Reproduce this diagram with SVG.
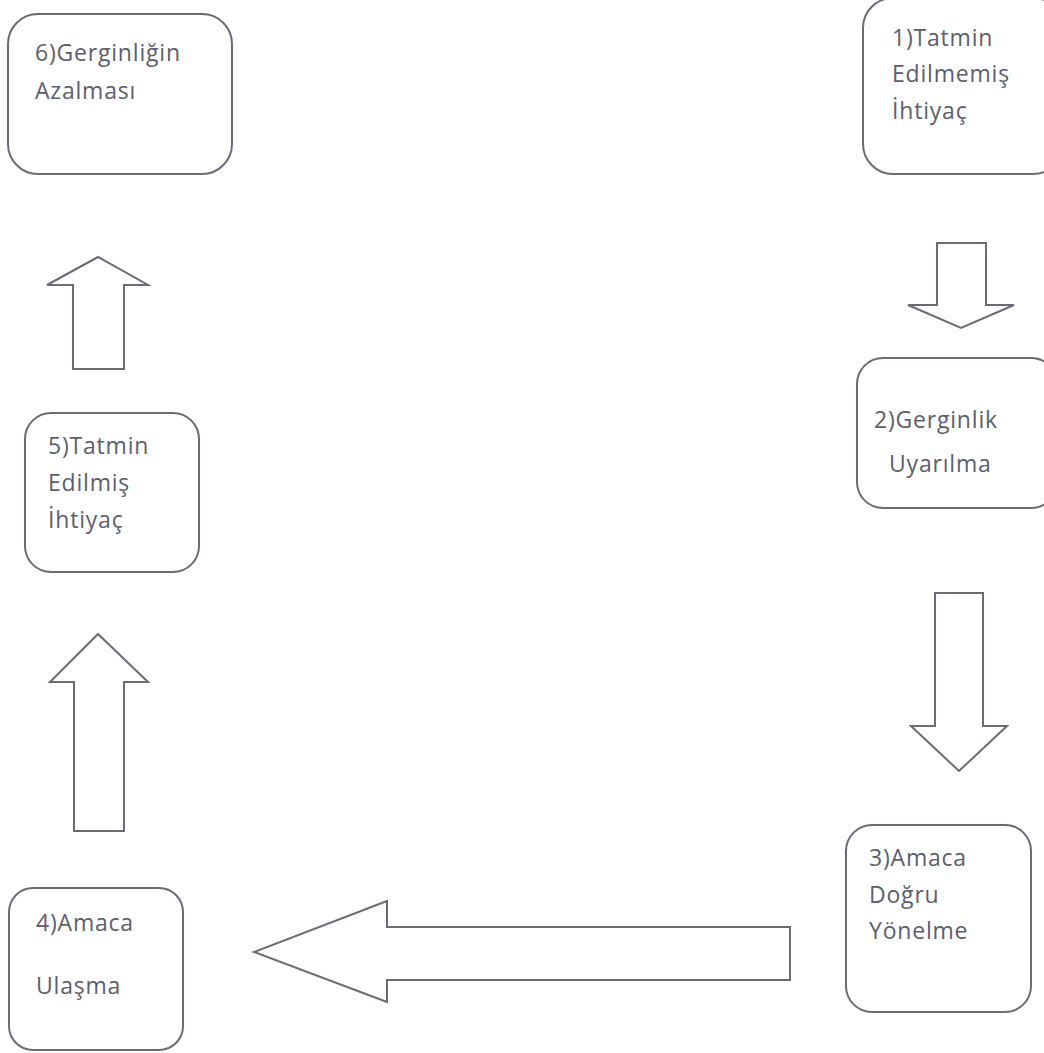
<svg xmlns="http://www.w3.org/2000/svg" width="1044" height="1053" viewBox="0 0 1044 1053">
<style>
.box{fill:#fff;stroke:#6b6b78;stroke-width:2}
.arr{fill:#fff;stroke:#6b6b78;stroke-width:2;stroke-linejoin:miter}
.t{font-family:"Open Sans","Noto Sans","DejaVu Sans",sans-serif;font-size:23px;letter-spacing:0.8px;fill:#5c5e6e}
</style>
<rect width="1044" height="1053" fill="#fff"/>
<g id="connectors">
<polygon class="arr" points="937,243 986,243 986,305 1014,305 961,328 908,305 937,305"/>
<polygon class="arr" points="935,593 983,593 983,726 1007,726 959,771 911,726 935,726"/>
<polygon class="arr" points="790,927 790,980 387,980 387,1002 254,952 387,901 387,927"/>
<polygon class="arr" points="74,831 124,831 124,682 148,682 98,634 50,682 74,682"/>
<polygon class="arr" points="73,369 124,369 124,285 148,285 98,257 47,285 73,285"/>
</g>
<g id="node1">
<rect class="box" x="863" y="-2" width="200" height="176" rx="30"/>
<text class="t" x="892" y="46">1)Tatmin</text>
<text class="t" x="892" y="82">Edilmemiş</text>
<text class="t" x="892" y="119">İhtiyaç</text>
</g>
<g id="node2">
<rect class="box" x="857" y="358" width="200" height="150" rx="26"/>
<text class="t" x="874" y="428">2)Gerginlik</text>
<text class="t" x="889" y="472">Uyarılma</text>
</g>
<g id="node3">
<rect class="box" x="846" y="825" width="185" height="187" rx="26"/>
<text class="t" x="869" y="866">3)Amaca</text>
<text class="t" x="869" y="903">Doğru</text>
<text class="t" x="869" y="939">Yönelme</text>
</g>
<g id="node4">
<rect class="box" x="9" y="888" width="174" height="162" rx="24"/>
<text class="t" x="36" y="931">4)Amaca</text>
<text class="t" x="36" y="994">Ulaşma</text>
</g>
<g id="node5">
<rect class="box" x="25" y="413" width="174" height="159" rx="26"/>
<text class="t" x="48" y="454">5)Tatmin</text>
<text class="t" x="48" y="491">Edilmiş</text>
<text class="t" x="48" y="528">İhtiyaç</text>
</g>
<g id="node6">
<rect class="box" x="8" y="14" width="224" height="160" rx="30"/>
<text class="t" x="35" y="61">6)Gerginliğin</text>
<text class="t" x="35" y="99">Azalması</text>
</g>
</svg>
